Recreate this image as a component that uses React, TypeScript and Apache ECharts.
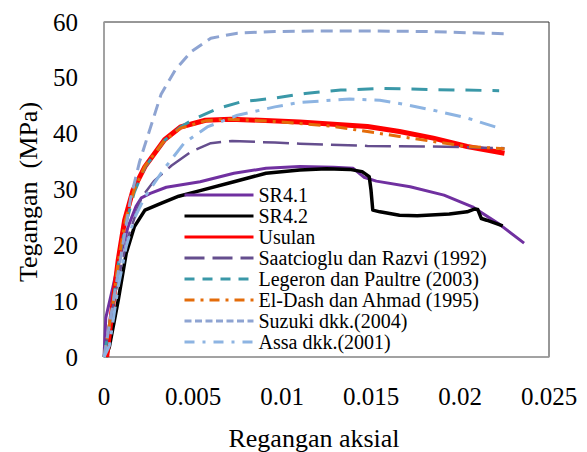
import React, { useEffect, useRef } from "react";
import * as echarts from "echarts";

const xTickLabels = ["0", "0.005", "0.01", "0.015", "0.02", "0.025"];
const yTickLabels = ["0", "10", "20", "30", "40", "50", "60"];

const seriesNames = [
  "SR4.1",
  "SR4.2",
  "Usulan",
  "Saatcioglu dan Razvi (1992)",
  "Legeron dan Paultre (2003)",
  "El-Dash dan Ahmad (1995)",
  "Suzuki dkk.(2004)",
  "Assa dkk.(2001)",
];

const sr41 = [
  [0, 0], [0.0001, 7], [0.0005, 12.5], [0.0008, 16.8], [0.00135, 23.3], [0.0018, 27],
  [0.0021, 28.5], [0.0026, 29.3], [0.0035, 30.4], [0.0054, 31.4], [0.0073, 32.9],
  [0.0091, 33.8], [0.011, 34.1], [0.0129, 34.0], [0.014, 33.8], [0.0146, 32.2],
  [0.0153, 31.5], [0.0172, 30.5], [0.0191, 29.0], [0.0207, 26.9], [0.0222, 23.8],
  [0.0236, 20.4],
];

const sr42 = [
  [0.0001, 0], [0.0003, 1.8], [0.0008, 10.2], [0.00125, 18.6], [0.0017, 23.3],
  [0.0023, 26.3], [0.0032, 27.5], [0.0042, 28.8], [0.0054, 29.8], [0.0073, 31.4],
  [0.0091, 32.9], [0.011, 33.5], [0.0125, 33.7], [0.0138, 33.6], [0.0145, 33.2],
  [0.0149, 32.3], [0.015, 29.9], [0.0151, 26.3], [0.0155, 26.0], [0.0166, 25.4],
  [0.0176, 25.3], [0.0194, 25.6], [0.0204, 26.0], [0.0208, 26.5], [0.021, 26.4],
  [0.0212, 24.8], [0.0215, 24.5], [0.0224, 23.5],
];

const usulan = [
  [0.00015, 0], [0.0005, 9.6], [0.0008, 17.4], [0.00116, 24.5], [0.00163, 29.9],
  [0.0023, 34.1], [0.0034, 38.9], [0.0043, 41.2], [0.0057, 42.4], [0.0071, 42.6],
  [0.011, 42.1], [0.0148, 41.3], [0.0166, 40.4], [0.0185, 39.2], [0.0204, 37.7],
  [0.0225, 36.5],
];

const saatcioglu = [
  [0, 0], [0.0005, 9], [0.0008, 14], [0.00135, 21.5], [0.0021, 28.5], [0.0028, 31.5],
  [0.0038, 34.3], [0.0049, 36.8], [0.006, 38.3], [0.0072, 38.7], [0.0096, 38.4],
  [0.011, 38.2], [0.0148, 37.8], [0.0185, 37.7], [0.0225, 37.4],
];

const legeron = [
  [0, 0], [0.0005, 9.5], [0.0008, 16.5], [0.0012, 23.5], [0.0017, 29.5], [0.0023, 34],
  [0.0034, 38.8], [0.0043, 41.2], [0.0051, 42.7], [0.0064, 44.5], [0.0077, 45.7],
  [0.0094, 46.3], [0.0113, 47.2], [0.0133, 47.8], [0.0157, 48.1], [0.0185, 47.9],
  [0.0222, 47.7],
];

const elDash = [
  [0, 0], [0.0005, 9.5], [0.0008, 17], [0.0012, 24.5], [0.0017, 30], [0.0023, 34.2],
  [0.0034, 38.8], [0.0043, 41], [0.0057, 42.3], [0.007, 42.6], [0.0095, 42.2],
  [0.0129, 41.3], [0.0166, 39.5], [0.0185, 38.6], [0.0204, 37.7], [0.0225, 37.3],
];

const suzuki = [
  [0, 0], [0.0005, 9.5], [0.001, 19], [0.0015, 28.5], [0.002, 35], [0.0026, 41],
  [0.0032, 47], [0.004, 51.4], [0.0049, 54.7], [0.006, 57.1], [0.0075, 58.0],
  [0.0096, 58.3], [0.012, 58.4], [0.015, 58.4], [0.018, 58.3], [0.0225, 57.9],
];

const assa = [
  [0, 0], [0.0003, 2], [0.0008, 12.6], [0.00125, 19.8], [0.0017, 24.8], [0.0023, 28.7],
  [0.0034, 33.8], [0.0045, 38.3], [0.0058, 41.2], [0.0075, 43.3], [0.0096, 44.8],
  [0.011, 45.6], [0.0138, 46.2], [0.0155, 46.0], [0.0166, 45.4], [0.0185, 44.2],
  [0.0204, 42.8], [0.0222, 41.0],
];

const FONT = "Liberation Serif";

export default function App() {
  const ref = useRef<HTMLDivElement>(null);

  useEffect(() => {
    if (!ref.current) return;
    const chart = echarts.init(ref.current, undefined, { renderer: "svg" });

    const styles = [
      { color: "#7030A0", width: 3, lw: 3, type: "solid" as any, legendType: "solid" as any },
      { color: "#000000", width: 3.5, lw: 3, type: "solid", legendType: "solid" },
      { color: "#FF0000", width: 5, lw: 3, type: "solid", legendType: "solid" },
      { color: "#654E8E", width: 2.5, lw: 3, type: [26, 8], legendType: [20, 8] },
      { color: "#3A98A8", width: 3, lw: 3, type: [16, 11], legendType: [10, 8] },
      { color: "#E46C0A", width: 3, lw: 3, type: [12, 6, 3, 6], legendType: [10, 6, 3, 6] },
      { color: "#8EA4D2", width: 3, lw: 3, type: [12, 7], legendType: [7, 3.5] },
      { color: "#8DB4E2", width: 3, lw: 3, type: [16, 8, 4, 8], legendType: [10, 8, 3, 8] },
    ];
    const datasets = [sr41, sr42, usulan, saatcioglu, legeron, elDash, suzuki, assa];

    const series = seriesNames.map((name, i) => ({
      name,
      type: "line",
      data: datasets[i],
      showSymbol: false,
      symbol: "none",
      smooth: false,
      lineStyle: {
        color: styles[i].color,
        width: styles[i].width,
        type: styles[i].type,
        cap: "butt",
        join: "round",
      },
      itemStyle: { color: styles[i].color },
      z: 2,
    }));

    chart.setOption({
      animation: false,
      backgroundColor: "#ffffff",
      textStyle: { fontFamily: FONT },
      grid: {
        left: 104,
        right: 38,
        top: 22,
        bottom: 95,
        show: true,
        borderColor: "#303030",
        borderWidth: 1,
        backgroundColor: "transparent",
      },
      xAxis: {
        type: "value",
        min: 0,
        max: 0.025,
        interval: 0.005,
        axisLine: { show: true, lineStyle: { color: "#A6A6A6", width: 1.5 } },
        axisTick: { show: false },
        splitLine: { show: false },
        axisLabel: {
          margin: 27,
          fontSize: 25,
          fontFamily: FONT,
          color: "#000",
          formatter: (v: number) => xTickLabels[Math.round(v / 0.005)] ?? "",
        },
      },
      yAxis: {
        type: "value",
        min: 0,
        max: 60,
        interval: 10,
        axisLine: { show: true, lineStyle: { color: "#A6A6A6", width: 1.5 } },
        axisTick: { show: false },
        splitLine: { show: false },
        axisLabel: {
          margin: 26,
          fontSize: 25,
          fontFamily: FONT,
          color: "#000",
          formatter: (v: number) => yTickLabels[Math.round(v / 10)] ?? "",
        },
      },
      legend: {
        orient: "vertical",
        left: 183,
        top: 185,
        itemWidth: 69,
        itemHeight: 14,
        itemGap: 1,
        padding: 0,
        itemStyle: { opacity: 0 },
        textStyle: { fontSize: 20, fontFamily: FONT, color: "#000", lineHeight: 20 },
        data: seriesNames.map((name, i) => ({
          name,
          lineStyle: { type: styles[i].legendType, width: styles[i].lw, color: styles[i].color },
        })),
      },
      graphic: [
        {
          type: "text",
          x: 314,
          y: 438,
          style: {
            text: "Regangan aksial",
            fontSize: 26,
            fontFamily: FONT,
            fill: "#000",
            textAlign: "center",
            textVerticalAlign: "middle",
          },
        },
        {
          type: "text",
          x: 28,
          y: 192,
          rotation: Math.PI / 2,
          style: {
            text: "Tegangan  (MPa)",
            fontSize: 26,
            fontFamily: FONT,
            fill: "#000",
            textAlign: "center",
            textVerticalAlign: "middle",
          },
        },
      ],
      series,
    });

    return () => chart.dispose();
  }, []);

  return (
    <div
      ref={ref}
      style={{ position: "fixed", left: 0, top: 0, width: 587, height: 452, background: "#fff" }}
    />
  );
}
